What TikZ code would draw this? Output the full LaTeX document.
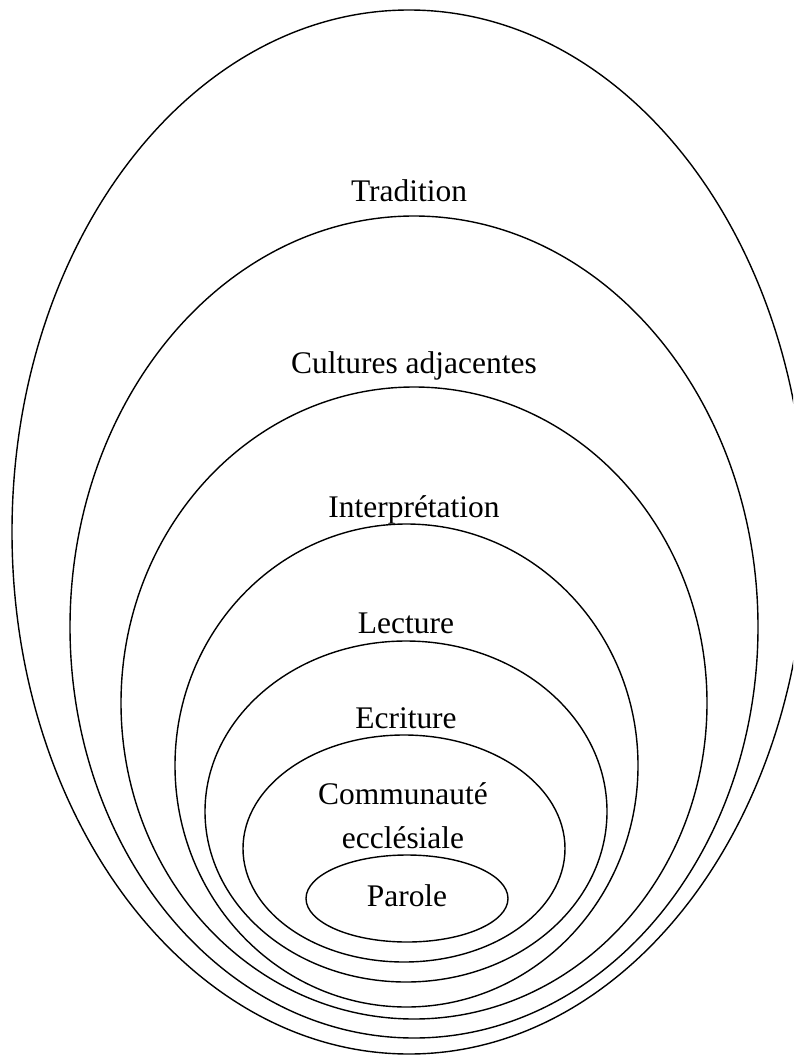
\documentclass[tikz,border=0pt]{standalone}
\usepackage{fontspec}
\setmainfont{Liberation Serif}
\usetikzlibrary{shapes.geometric}

% Nested rings, each given by its half axes (in px units)
\tikzset{
  ring/.style 2 args={ellipse, draw, line width=1.05pt, inner sep=0pt,
    minimum width=#1*1.5pt, minimum height=#2*1.5pt},
  tag/.style={anchor=base, inner sep=0pt, align=center,
    font=\fontsize{23.6}{32.3}\selectfont}
}

\begin{document}
\begin{tikzpicture}[x=0.75pt, y=-0.75pt]
  \useasboundingbox (0,0) rectangle (793,1056);
  \clip (0,0) rectangle (793,1056);

  % rings, from the outside in
  \node[ring={397}{522}]   (tradition)   at (409,532)   {};
  \node[ring={344}{411}]   (cultures)    at (414,627)   {};
  \node[ring={293}{316}]   (interp)      at (414,703)   {};
  \node[ring={231.5}{241.5}] (lecture)   at (406.5,765.5) {};
  \node[ring={201}{170.5}] (ecriture)    at (406,811.5) {};
  \node[ring={161}{113.5}] (communaute)  at (404,848.5) {};
  \node[ring={101}{43.5}]  (parole)      at (407,898.5) {};

  % labels (a two-line label sits on the baseline of its last line)
  \node[tag] (tTradition)  at (409,201) {Tradition};
  \node[tag] (tCultures)   at (414,373) {Cultures adjacentes};
  \node[tag] (tInterp)     at (414,517) {Interprétation};
  \node[tag] (tLecture)    at (406,633) {Lecture};
  \node[tag] (tEcriture)   at (406,728) {Ecriture};
  \node[tag] (tComm)       at (403,848) {Communauté\\ecclésiale};
  \node[tag] (tParole)     at (407,906) {Parole};
\end{tikzpicture}
\end{document}
